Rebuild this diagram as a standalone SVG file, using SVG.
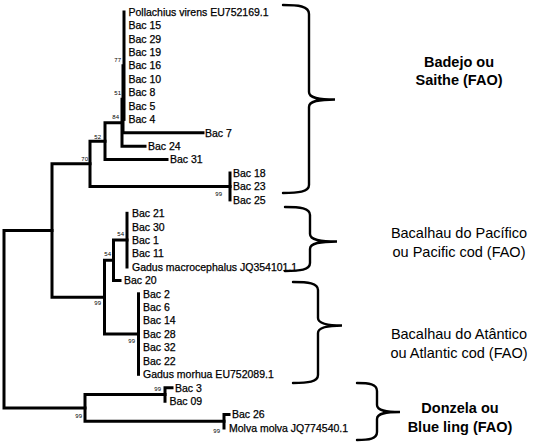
<svg xmlns="http://www.w3.org/2000/svg" width="539" height="444" viewBox="0 0 539 444">
<style>
.br{stroke:#000;stroke-width:3;fill:none;stroke-linecap:square}
.brace{stroke:#000;stroke-width:2.4;fill:none;stroke-linecap:round}
.lf{font-family:"Liberation Sans",Arial,sans-serif;font-size:10.5px;fill:#000;stroke:#000;stroke-width:0.25}
.bs{font-family:"Liberation Sans",Arial,sans-serif;font-size:6px;fill:#000;text-anchor:end}
.cl{font-family:"Liberation Sans",Arial,sans-serif;font-size:14.5px;fill:#000;text-anchor:middle}
.clb{font-family:"Liberation Sans",Arial,sans-serif;font-size:14.5px;font-weight:bold;fill:#000;text-anchor:middle}
</style>
<rect width="539" height="444" fill="#fff"/>
<g id="connectors">
<path class="br" d="M124,12 V119.4"/>
<path class="br" d="M123,65.7 V132.8 H203"/>
<path class="br" d="M122,99.2 V146.2 H145"/>
<path class="br" d="M105,122.7 H122 M105,122.7 V159.6 H167"/>
<path class="br" d="M90,141.2 H105 M90,141.2 V186.5 H230"/>
<path class="br" d="M230,173 V199.9"/>
<path class="br" d="M52,163.8 H90 M52,163.8 V297.2 H104.5"/>
<path class="br" d="M127,213.3 V267"/>
<path class="br" d="M113.5,240.1 H127 M113.5,240.1 V280.4 H120"/>
<path class="br" d="M104.5,260.3 H113.5 M104.5,260.3 V334.1 H138.5"/>
<path class="br" d="M138.5,293.8 V374.3"/>
<path class="br" d="M172,387.8 H165 V401.2"/>
<path class="br" d="M229,414.6 H224 V428"/>
<path class="br" d="M165,394.5 H85 V421.3 H224"/>
<path class="br" d="M52,230.5 H4 V407.9 H85"/>
</g>
<g id="leaves">
<g id="n-pollachius"><text class="lf" x="128.5" y="15.8">Pollachius virens EU752169.1</text></g>
<g id="n-bac15"><text class="lf" x="128.5" y="29.2">Bac 15</text></g>
<g id="n-bac29"><text class="lf" x="128.5" y="42.6">Bac 29</text></g>
<g id="n-bac19"><text class="lf" x="128.5" y="56">Bac 19</text></g>
<g id="n-bac16"><text class="lf" x="128.5" y="69.4">Bac 16</text></g>
<g id="n-bac10"><text class="lf" x="128.5" y="82.9">Bac 10</text></g>
<g id="n-bac8"><text class="lf" x="128.5" y="96.3">Bac 8</text></g>
<g id="n-bac5"><text class="lf" x="128.5" y="109.7">Bac 5</text></g>
<g id="n-bac4"><text class="lf" x="128.5" y="123.1">Bac 4</text></g>
<g id="n-bac7"><text class="lf" x="205" y="136.5">Bac 7</text></g>
<g id="n-bac24"><text class="lf" x="148" y="149.9">Bac 24</text></g>
<g id="n-bac31"><text class="lf" x="170" y="163.4">Bac 31</text></g>
<g id="n-bac18"><text class="lf" x="233" y="176.8">Bac 18</text></g>
<g id="n-bac23"><text class="lf" x="233" y="190.2">Bac 23</text></g>
<g id="n-bac25"><text class="lf" x="233" y="203.6">Bac 25</text></g>
<g id="n-bac21"><text class="lf" x="132" y="217">Bac 21</text></g>
<g id="n-bac30"><text class="lf" x="132" y="230.5">Bac 30</text></g>
<g id="n-bac1"><text class="lf" x="132" y="243.9">Bac 1</text></g>
<g id="n-bac11"><text class="lf" x="132" y="257.3">Bac 11</text></g>
<g id="n-gmacro"><text class="lf" x="132" y="270.7">Gadus macrocephalus JQ354101.1</text></g>
<g id="n-bac20"><text class="lf" x="124" y="284.1">Bac 20</text></g>
<g id="n-bac2"><text class="lf" x="143" y="297.6">Bac 2</text></g>
<g id="n-bac6"><text class="lf" x="143" y="311">Bac 6</text></g>
<g id="n-bac14"><text class="lf" x="143" y="324.4">Bac 14</text></g>
<g id="n-bac28"><text class="lf" x="143" y="337.8">Bac 28</text></g>
<g id="n-bac32"><text class="lf" x="143" y="351.2">Bac 32</text></g>
<g id="n-bac22"><text class="lf" x="143" y="364.7">Bac 22</text></g>
<g id="n-gmorhua"><text class="lf" x="143" y="378.1">Gadus morhua EU752089.1</text></g>
<g id="n-bac3"><text class="lf" x="175" y="391.5">Bac 3</text></g>
<g id="n-bac09"><text class="lf" x="169.5" y="404.9">Bac 09</text></g>
<g id="n-bac26"><text class="lf" x="232" y="418.3">Bac 26</text></g>
<g id="n-molva"><text class="lf" x="229" y="431.8">Molva molva JQ774540.1</text></g>
</g>
<g id="bootstrap">
<text class="bs" x="121" y="62">77</text>
<text class="bs" x="121" y="95">51</text>
<text class="bs" x="119" y="119">84</text>
<text class="bs" x="101" y="139">52</text>
<text class="bs" x="88" y="161">70</text>
<text class="bs" x="222" y="196">99</text>
<text class="bs" x="124" y="236">54</text>
<text class="bs" x="111" y="256">54</text>
<text class="bs" x="101" y="305">99</text>
<text class="bs" x="135" y="343">99</text>
<text class="bs" x="161" y="391">99</text>
<text class="bs" x="82" y="418">99</text>
<text class="bs" x="220" y="433">99</text>
</g>
<g id="clade-badejo">
<path class="brace" d="M283,5 C298,5 309,6 309,14 V92 C309,98 318,99.5 335,99.5 C318,99.5 309,101 309,107 V185 C309,192 298,193 283,193"/>
<text class="clb" x="459" y="66.5">Badejo ou</text>
<text class="clb" x="459" y="85">Saithe (FAO)</text>
</g>
<g id="clade-pacifico">
<path class="brace" d="M285,207 C300,207 310,208 310,215 V234 C310,240 320,241.5 337,241.5 C320,241.5 310,243 310,249 V263 C310,270 300,271 285,271"/>
<text class="cl" x="459" y="238">Bacalhau do Pacífico</text>
<text class="cl" x="459" y="256.5">ou Pacific cod (FAO)</text>
</g>
<g id="clade-atlantico">
<path class="brace" d="M293,282 C308,282 318,283 318,290 V318 C318,324 328,325.5 342,325.5 C328,325.5 318,327 318,333 V375 C318,382 308,383 293,383"/>
<text class="cl" x="459" y="339">Bacalhau do Atântico</text>
<text class="cl" x="459" y="358">ou Atlantic cod (FAO)</text>
</g>
<g id="clade-donzela">
<path class="brace" d="M357,383 C369,383 377,384 377,391 V405 C377,411 387,412 400,412 C387,412 377,413 377,419 V432 C377,439 369,440 357,440"/>
<text class="clb" x="460" y="413">Donzela ou</text>
<text class="clb" x="460" y="432">Blue ling (FAO)</text>
</g>
</svg>
